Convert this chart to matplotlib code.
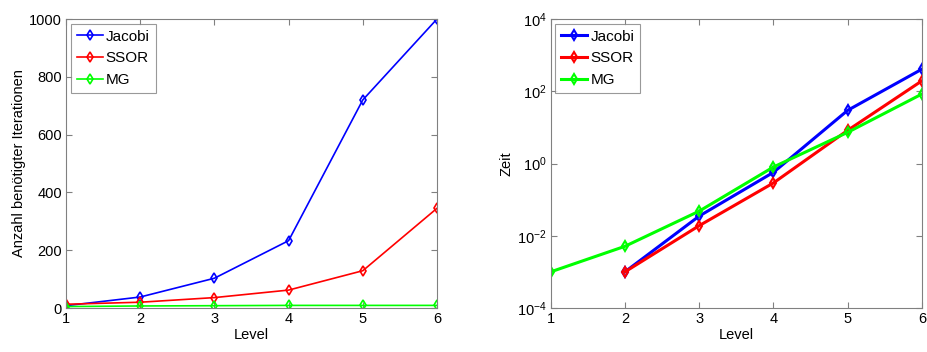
import numpy as np
import matplotlib.pyplot as plt
from matplotlib.ticker import LogLocator, NullLocator

plt.rcParams['font.family'] = ['Liberation Sans', 'DejaVu Sans']
plt.rcParams['font.size'] = 10.5

# data
level = [1, 2, 3, 4, 5, 6]
it_jacobi = [8, 38, 103, 233, 720, 1000]
it_ssor = [13, 20, 36, 62, 129, 345]
it_mg = [5, 7, 8, 9, 9, 9]

t_level_jac = [2, 3, 4, 5, 6]
t_jacobi = [1.0e-3, 0.035, 0.57, 29.7, 410]
t_level_ssor = [2, 3, 4, 5, 6]
t_ssor = [1.0e-3, 0.019, 0.29, 8.3, 195]
t_level_mg = [1, 2, 3, 4, 5, 6]
t_mg = [1.0e-3, 0.0051, 0.048, 0.8, 7.3, 84]

names = ['Jacobi', 'SSOR', 'MG']
colors = ['#0000ff', '#ff0000', '#00ff00']

fig = plt.figure(figsize=(9.27, 3.52), dpi=100)
ax1 = fig.add_axes([0.0712, 0.125, 0.4002, 0.821])
ax2 = fig.add_axes([0.594, 0.125, 0.4006, 0.821])


def style(ax):
    for s in ax.spines.values():
        s.set_color('#808080')
        s.set_linewidth(0.8)
    ax.tick_params(direction='in', top=True, right=True, color='#808080',
                   length=4, labelcolor='black', pad=3)
    ax.tick_params(which='minor', direction='in', top=True, right=True,
                   color='#808080', length=2)


def legend(ax):
    leg = ax.legend(loc='upper left', fancybox=False, edgecolor='#808080',
                    handlelength=1.7, handletextpad=0.2, borderpad=0.4,
                    labelspacing=0.5, borderaxespad=0.3, fontsize=11)
    leg.get_frame().set_linewidth(0.8)


# left: iterations
for y, c, n in zip([it_jacobi, it_ssor, it_mg], colors, names):
    ax1.plot(level, y, '-d', color=c, lw=1.2, ms=5, mfc='none', mew=1.2, label=n)
ax1.set_xlim(1, 6)
ax1.set_ylim(0, 1000)
ax1.set_xticks(level)
ax1.set_yticks([0, 200, 400, 600, 800, 1000])
ax1.set_xlabel('Level', labelpad=1)
ax1.set_ylabel('Anzahl benötigter Iterationen', labelpad=2)
style(ax1)
legend(ax1)

# right: time (log scale)
for x, y, c, n in zip([t_level_jac, t_level_ssor, t_level_mg],
                      [t_jacobi, t_ssor, t_mg], colors, names):
    ax2.semilogy(x, y, '-d', color=c, lw=2.2, ms=5, mfc='none', mew=1.5, label=n)
ax2.set_xlim(1, 6)
ax2.set_ylim(1e-4, 1e4)
ax2.set_xticks(level)
ax2.yaxis.set_major_locator(LogLocator(base=100.0))
ax2.yaxis.set_minor_locator(NullLocator())
ax2.set_xlabel('Level', labelpad=1)
ax2.set_ylabel('Zeit', labelpad=2)
style(ax2)
legend(ax2)

fig.savefig('out.png', dpi=100)
